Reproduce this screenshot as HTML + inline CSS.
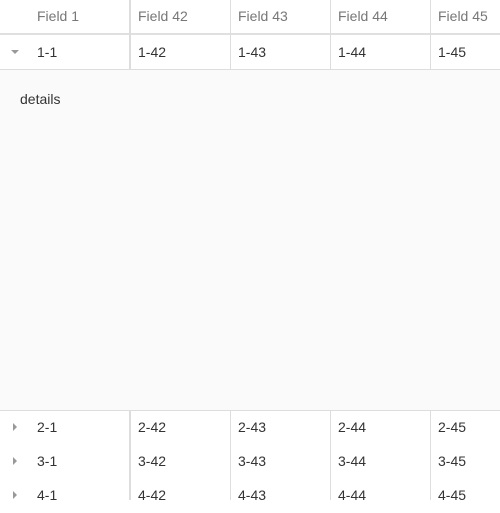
<!DOCTYPE html>
<html><head><meta charset="utf-8"><style>
body{margin:0;width:500px;height:500px;overflow:hidden;background:#fff;font-family:"Liberation Sans",sans-serif;font-size:14px;position:relative}
.a{position:absolute}
.t{position:absolute;line-height:16px}
.h{color:#777}
.b{color:#333}
.vl{position:absolute;width:1px;background:#ddd}
.hl{position:absolute;left:0;width:500px;height:1px;background:#ddd}
.tri-d{position:absolute;width:0;height:0;border-left:4px solid transparent;border-right:4px solid transparent;border-top:4px solid #999}
.tri-r{position:absolute;width:0;height:0;border-top:4px solid transparent;border-bottom:4px solid transparent;border-left:4px solid #999}
</style></head><body>
<div class="a" style="left:0;top:0;width:500px;height:34px">
<span class="t h" style="left:37px;top:8px">Field 1</span>
<span class="t h" style="left:138px;top:8px">Field 42</span>
<span class="t h" style="left:238px;top:8px">Field 43</span>
<span class="t h" style="left:338px;top:8px">Field 44</span>
<span class="t h" style="left:438px;top:8px">Field 45</span>
</div>
<div class="hl" style="top:33px;height:2px;background:#e0e0e0"></div>
<div class="a" style="left:0;top:35px;width:500px;height:34px">
<div class="tri-d" style="left:11px;top:15px"></div>
<span class="t b" style="left:37px;top:9px">1-1</span>
<span class="t b" style="left:138px;top:9px">1-42</span>
<span class="t b" style="left:238px;top:9px">1-43</span>
<span class="t b" style="left:338px;top:9px">1-44</span>
<span class="t b" style="left:438px;top:9px">1-45</span>
</div>
<div class="hl" style="top:69px"></div>
<div class="a" style="left:0;top:70px;width:500px;height:340px;background:#fafafa">
<span class="t b" style="left:20px;top:21px">details</span>
</div>
<div class="hl" style="top:410px"></div>
<div class="a" style="left:0;top:411px;width:500px;height:34px">
<div class="tri-r" style="left:13px;top:12px"></div>
<span class="t b" style="left:37px;top:8px">2-1</span><span class="t b" style="left:138px;top:8px">2-42</span><span class="t b" style="left:238px;top:8px">2-43</span><span class="t b" style="left:338px;top:8px">2-44</span><span class="t b" style="left:438px;top:8px">2-45</span>
</div>
<div class="a" style="left:0;top:445px;width:500px;height:34px">
<div class="tri-r" style="left:13px;top:12px"></div>
<span class="t b" style="left:37px;top:8px">3-1</span><span class="t b" style="left:138px;top:8px">3-42</span><span class="t b" style="left:238px;top:8px">3-43</span><span class="t b" style="left:338px;top:8px">3-44</span><span class="t b" style="left:438px;top:8px">3-45</span>
</div>
<div class="a" style="left:0;top:479px;width:500px;height:34px">
<div class="tri-r" style="left:13px;top:12px"></div>
<span class="t b" style="left:37px;top:8px">4-1</span><span class="t b" style="left:138px;top:8px">4-42</span><span class="t b" style="left:238px;top:8px">4-43</span><span class="t b" style="left:338px;top:8px">4-44</span><span class="t b" style="left:438px;top:8px">4-45</span>
</div>
<div class="vl" style="left:129px;top:0;height:70px;width:2px"></div>
<div class="vl" style="left:230px;top:0;height:70px"></div>
<div class="vl" style="left:330px;top:0;height:70px"></div>
<div class="vl" style="left:430px;top:0;height:70px"></div>
<div class="vl" style="left:129px;top:411px;height:89px;width:2px"></div>
<div class="vl" style="left:230px;top:411px;height:89px"></div>
<div class="vl" style="left:330px;top:411px;height:89px"></div>
<div class="vl" style="left:430px;top:411px;height:89px"></div>
</body></html>
